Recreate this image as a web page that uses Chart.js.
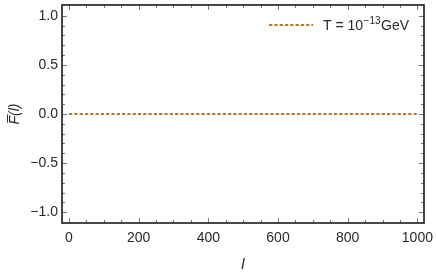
<!DOCTYPE html>
<html>
<head>
<meta charset="utf-8">
<script src="https://cdn.jsdelivr.net/npm/chart.js@4.4.0/dist/chart.umd.min.js"></script>
<style>
  html, body { margin: 0; padding: 0; background: #fff; }
  #wrap { width: 436px; height: 273px; }
</style>
</head>
<body>
<div id="wrap"><canvas id="myChart" width="436" height="273"></canvas></div>
<script>
// data: F(l) is flat at zero over the whole range
const lValues = [0, 100, 200, 300, 400, 500, 600, 700, 800, 900, 1000];
const fValues = [0, 0, 0, 0, 0, 0, 0, 0, 0, 0, 0];
const seriesLabel = ['T = 10', '\u221213', 'GeV'];  // base, superscript, unit
const xTicks = [0, 200, 400, 600, 800, 1000];
const yTicks = [-1.0, -0.5, 0.0, 0.5, 1.0];

const lineColor = '#b67838';
const frameColor = '#1a1a1a';
const textColor = '#2a2a2a';
const fontFamily = '"Liberation Sans", Arial, sans-serif';

// inward ticks on all four sides + frame, like the original plot
const frameTicks = {
  id: 'frameTicks',
  afterDraw(chart) {
    const { ctx, chartArea: a, scales } = chart;
    const x = scales.x, y = scales.y;
    ctx.save();
    ctx.strokeStyle = '#777';
    ctx.lineWidth = 1;
    for (let v = 0; v <= 1000; v += 50) {
      const px = Math.round(x.getPixelForValue(v)) + 0.5;
      const len = v % 200 === 0 ? 5 : 3;
      ctx.beginPath();
      ctx.moveTo(px, a.bottom); ctx.lineTo(px, a.bottom - len);
      ctx.moveTo(px, a.top); ctx.lineTo(px, a.top + len);
      ctx.stroke();
    }
    for (let i = -10; i <= 10; i++) {
      const v = i / 10;
      const py = Math.round(y.getPixelForValue(v)) + 0.5;
      const len = i % 5 === 0 ? 5 : 3;
      ctx.beginPath();
      ctx.moveTo(a.left, py); ctx.lineTo(a.left + len, py);
      ctx.moveTo(a.right, py); ctx.lineTo(a.right - len, py);
      ctx.stroke();
    }
    ctx.strokeStyle = frameColor;
    ctx.lineWidth = 1.6;
    ctx.strokeRect(a.left, a.top, a.right - a.left, a.bottom - a.top);

    // legend, top right inside the frame
    const ds = chart.data.datasets[0];
    ctx.strokeStyle = ds.borderColor;
    ctx.lineWidth = ds.borderWidth;
    ctx.setLineDash(ds.borderDash);
    ctx.beginPath();
    ctx.moveTo(269, 25); ctx.lineTo(313, 25);
    ctx.stroke();
    ctx.setLineDash([]);
    ctx.fillStyle = textColor;
    ctx.textBaseline = 'alphabetic';
    let tx = 323;
    ctx.font = '14px ' + fontFamily;
    ctx.fillText(seriesLabel[0], tx, 30);
    tx += ctx.measureText(seriesLabel[0]).width + 0.5;
    ctx.font = '10px ' + fontFamily;
    ctx.fillText(seriesLabel[1], tx, 24);
    tx += ctx.measureText(seriesLabel[1]).width + 0.5;
    ctx.font = '14px ' + fontFamily;
    ctx.fillText(seriesLabel[2], tx, 30);
    ctx.restore();
  }
};

new Chart(document.getElementById('myChart').getContext('2d'), {
  type: 'line',
  data: {
    labels: lValues,
    datasets: [{
      label: seriesLabel.join(''),
      data: lValues.map((l, i) => ({ x: l, y: fValues[i] })),
      borderColor: lineColor,
      backgroundColor: lineColor,
      borderWidth: 2,
      borderDash: [3.3, 2],
      pointRadius: 0,
      fill: false,
      tension: 0
    }]
  },
  options: {
    responsive: false,
    animation: false,
    layout: { padding: { top: 5, right: 12, left: 0, bottom: 0 } },
    plugins: { legend: { display: false }, tooltip: { enabled: false } },
    scales: {
      x: {
        type: 'linear',
        min: -20,
        max: 1019,
        grid: { display: false, drawTicks: false },
        border: { display: false },
        afterBuildTicks: s => { s.ticks = xTicks.map(v => ({ value: v })); },
        afterFit: s => { s.height = 50; s.paddingLeft = 0; s.paddingRight = 0; },
        ticks: {
          color: textColor,
          font: { family: fontFamily, size: 14 },
          padding: 7,
          maxRotation: 0,
          callback: v => String(v)
        },
        title: {
          display: true,
          text: 'l',
          color: textColor,
          font: { family: fontFamily, size: 15, style: 'italic' },
          padding: { top: 11, bottom: -1 }
        }
      },
      y: {
        min: -1.11,
        max: 1.11,
        grid: { display: false, drawTicks: false },
        border: { display: false },
        afterBuildTicks: s => { s.ticks = yTicks.map(v => ({ value: v })); },
        afterFit: s => { s.width = 62; s.paddingTop = 0; s.paddingBottom = 0; },
        ticks: {
          color: textColor,
          font: { family: fontFamily, size: 14 },
          padding: 4,
          callback: v => (v < 0 ? '\u2212' : '') + Math.abs(v).toFixed(1)
        },
        title: {
          display: true,
          text: 'F\u0305(l)',
          color: textColor,
          font: { family: fontFamily, size: 14, style: 'italic' },
          padding: { bottom: 0, top: 7 }
        }
      }
    }
  },
  plugins: [frameTicks]
});
</script>
</body>
</html>
